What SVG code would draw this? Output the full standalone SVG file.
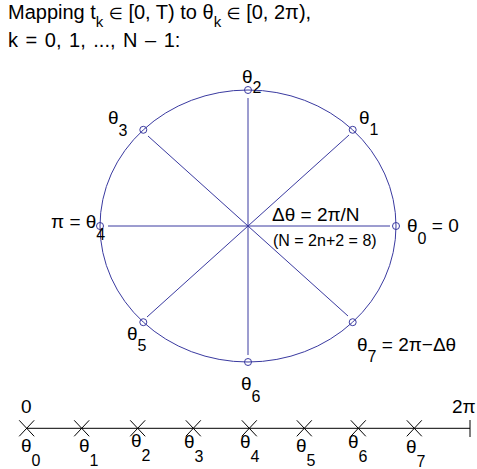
<svg xmlns="http://www.w3.org/2000/svg" width="477" height="469" viewBox="0 0 477 469">
<style>
text{font-family:"Liberation Sans",Arial,"DejaVu Sans",sans-serif;fill:#000}
.t{font-size:20px}
.l{font-size:19px}
.s{font-size:16px}
.ts{font-size:15px}
.e{font-size:16px}
.sm{font-size:16px}
.c{fill:none;stroke:#3a3aa0;stroke-width:1}
.k{stroke:#000;stroke-width:1;fill:none}
</style>
<rect width="477" height="469" fill="#fff"/>
<g id="title">
<text class="t" x="8" y="19">Mapping t<tspan class="ts" dy="8">k</tspan><tspan dy="-8"> </tspan><tspan class="e">∈</tspan><tspan> [0, T) to θ</tspan><tspan class="ts" dy="8">k</tspan><tspan dy="-8"> </tspan><tspan class="e">∈</tspan><tspan> [0, 2π),</tspan></text>
<text class="t" x="8" y="47" word-spacing="2">k = 0, 1, ..., N – 1:</text>
</g>
<g id="circle">
<ellipse class="c" cx="248" cy="226" rx="148" ry="136"/>
</g>
<g id="connectors">
<line class="c" x1="108" y1="226" x2="390" y2="226"/>
<line class="c" x1="248" y1="98" x2="248" y2="355"/>
<line class="c" x1="148" y1="136" x2="348" y2="316"/>
<line class="c" x1="349" y1="135" x2="147" y2="317"/>
</g>
<g id="p0"><circle class="c" cx="396" cy="226" r="3.5"/><text class="l" x="407" y="232">θ<tspan class="s" dy="12">0</tspan><tspan dy="-12"> = 0</tspan></text></g>
<g id="p1"><circle class="c" cx="352.7" cy="129.8" r="3.5"/><text class="l" x="359" y="124">θ<tspan class="s" dy="11">1</tspan></text></g>
<g id="p2"><circle class="c" cx="248" cy="90" r="3.5"/><text class="l" x="242" y="83">θ<tspan class="s" dy="10">2</tspan></text></g>
<g id="p3"><circle class="c" cx="143.3" cy="129.8" r="3.5"/><text class="l" x="108" y="124">θ<tspan class="s" dy="12">3</tspan></text></g>
<g id="p4"><circle class="c" cx="100" cy="226" r="3.5"/><text class="l" x="51" y="228">π = θ<tspan class="s" dy="12">4</tspan></text></g>
<g id="p5"><circle class="c" cx="143.3" cy="322.2" r="3.5"/><text class="l" x="127" y="340">θ<tspan class="s" dy="11">5</tspan></text></g>
<g id="p6"><circle class="c" cx="248" cy="362" r="3.5"/><text class="l" x="241" y="390">θ<tspan class="s" dy="12">6</tspan></text></g>
<g id="p7"><circle class="c" cx="352.7" cy="322.2" r="3.5"/><text class="l" x="357" y="351">θ<tspan class="s" dy="11">7</tspan><tspan dy="-11"> = 2π−Δθ</tspan></text></g>
<g id="delta">
<text class="l" x="272" y="221">Δθ = 2π/N</text>
<text class="sm" x="273" y="246">(N = 2n+2 = 8)</text>
</g>
<g id="axis">
<line class="k" x1="26.7" y1="428.3" x2="470" y2="428.3"/>
<line class="k" x1="470" y1="420" x2="470" y2="437"/>
<text class="l" x="21" y="413">0</text>
<text class="l" x="452" y="413">2π</text>
</g>
<g id="ticks">
<path class="k" d="M19.2 420.3l15 16m0 -16l-15 16M74.2 420.3l15 16m0 -16l-15 16M130.2 420.3l15 16m0 -16l-15 16M185.8 420.3l15 16m0 -16l-15 16M241.8 420.3l15 16m0 -16l-15 16M296.8 420.3l15 16m0 -16l-15 16M350.8 420.3l15 16m0 -16l-15 16M406.8 420.3l15 16m0 -16l-15 16"/>
</g>
<g id="labels">
<text class="l" x="21" y="452">θ<tspan class="s" dy="14">0</tspan></text>
<text class="l" x="79" y="452">θ<tspan class="s" dy="14">1</tspan></text>
<text class="l" x="131" y="447">θ<tspan class="s" dy="14">2</tspan></text>
<text class="l" x="184" y="448">θ<tspan class="s" dy="14">3</tspan></text>
<text class="l" x="240" y="448">θ<tspan class="s" dy="14">4</tspan></text>
<text class="l" x="296" y="452">θ<tspan class="s" dy="14">5</tspan></text>
<text class="l" x="348" y="448">θ<tspan class="s" dy="14">6</tspan></text>
<text class="l" x="406" y="453">θ<tspan class="s" dy="14">7</tspan></text>
</g>
</svg>
